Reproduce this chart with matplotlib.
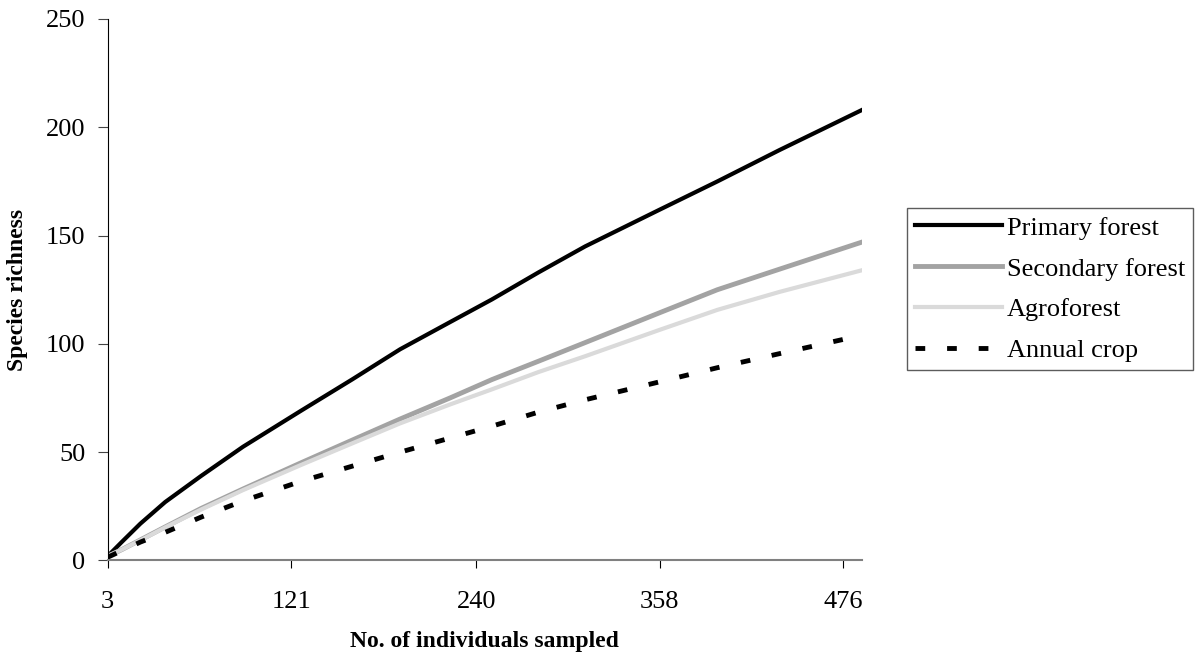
import matplotlib
matplotlib.use('Agg')
import matplotlib.pyplot as plt

plt.rcParams['font.family'] = ['Liberation Serif', 'DejaVu Serif']

# sample sizes and species richness
individuals = [3, 12, 24, 40, 63, 90, 127, 160, 191, 223, 250, 280, 310, 358, 395, 435, 488]
primary = [2, 8.5, 17, 27, 39, 52.5, 69, 83.5, 97.5, 110, 120.5, 133, 145, 162, 175, 189.5, 208]
secondary = [2, 5, 9.5, 15.5, 24, 33, 45, 55.5, 65.3, 75, 83.5, 92, 100.6, 114.4, 125, 134.5, 147]
agroforest = [2, 5, 9.3, 15.3, 23.5, 32.5, 44, 54, 63.3, 72, 79, 87, 94.3, 106.5, 115.7, 124, 134]
annual = [1.5, 4.5, 8.5, 13, 20, 27.5, 36.5, 43.5, 50, 56.5, 62, 68.5, 74.2, 82.5, 89, 95.5, 104]

xticks = [3, 121, 240, 358, 476]
yticks = [0, 50, 100, 150, 200, 250]

fig = plt.figure(figsize=(11.98, 6.64), dpi=100)
ax = fig.add_axes([0.0899, 0.1559, 0.7195 - 0.0899, 0.9714 - 0.1559])

ax.plot(individuals, primary, color='black', lw=3, label='Primary forest')
ax.plot(individuals, secondary, color='#a3a3a3', lw=3.5, label='Secondary forest')
ax.plot(individuals, agroforest, color='#dadada', lw=3, label='Agroforest')
ax.plot(individuals, annual, color='black', lw=3.5, dashes=(2, 4.5), label='Annual crop', dash_capstyle='butt')

ax.set_xlim(3, 488)
ax.set_ylim(0, 250)
ax.set_xticks(xticks)
ax.set_yticks(yticks)

for s in ['top', 'right']:
    ax.spines[s].set_visible(False)
ax.spines['left'].set_color('black')
ax.spines['bottom'].set_color('#808080')
ax.spines['bottom'].set_linewidth(1.5)

ax.tick_params(axis='y', direction='out', length=7, pad=9, labelsize=19, color='#444444')
ax.tick_params(axis='x', direction='out', length=6, pad=16, labelsize=19, color='black')

ax.set_xlabel('No. of individuals sampled', fontsize=17, fontweight='bold', labelpad=13)
ax.set_ylabel('Species richness', fontsize=17, fontweight='bold', labelpad=13)

leg = fig.legend(loc='upper left', bbox_to_anchor=(906.7 / 1198, 1 - 208.3 / 664),
                 bbox_transform=fig.transFigure, fontsize=19, frameon=True,
                 fancybox=False, borderaxespad=0, handlelength=3.3,
                 handletextpad=0.2, labelspacing=0.66, borderpad=0.3)
leg.get_frame().set_edgecolor('#333333')
leg.get_frame().set_linewidth(1)

fig.savefig('out.png', dpi=100)
